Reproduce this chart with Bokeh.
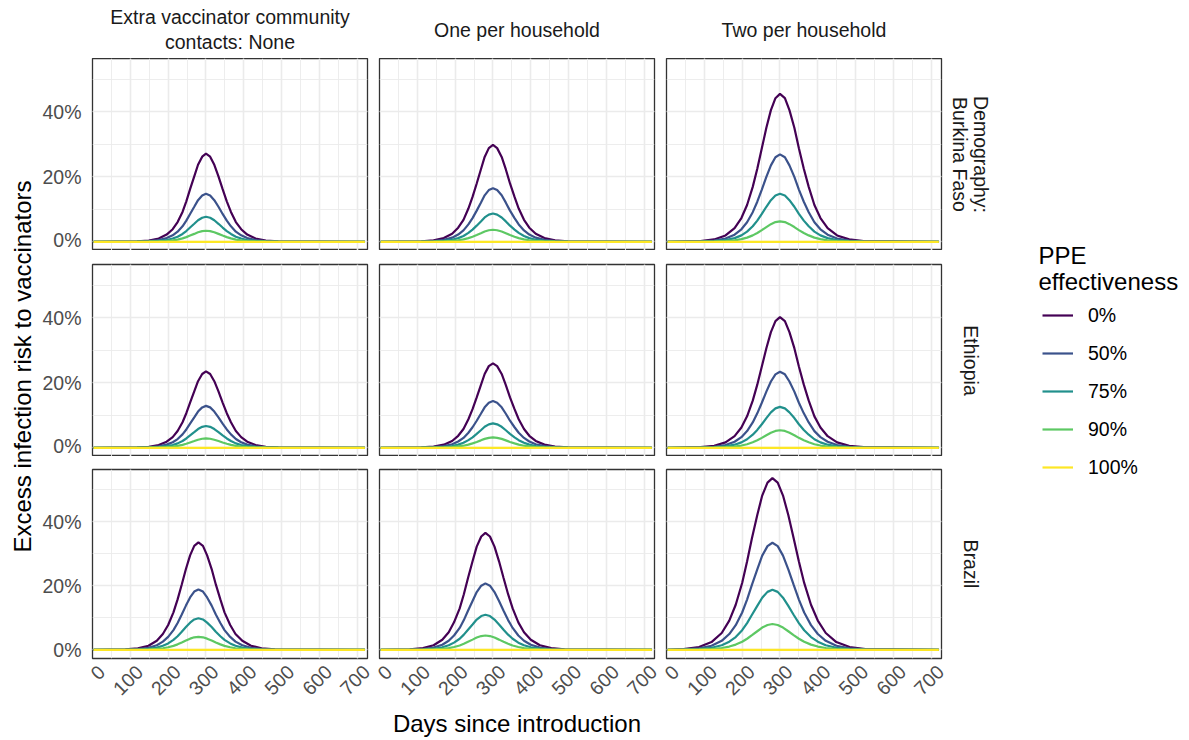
import math
from bokeh.plotting import figure
from bokeh.models import Range1d, SingleIntervalTicker, FixedTicker, PrintfTickFormatter, Legend, LegendItem, Spacer
from bokeh.layouts import row, column
from bokeh.core.properties import value
from bokeh.embed import file_html
from bokeh.resources import INLINE

FONT = "Liberation Sans"

col_labels = ["Extra vaccinator community\ncontacts: None", "One per household", "Two per household"]
row_labels = [["Demography:", "Burkina Faso"], ["Ethiopia"], ["Brazil"]]
ppe_levels = ["0%", "50%", "75%", "90%", "100%"]
ppe_colors = ["#440154", "#3B528B", "#21908C", "#5DC863", "#FDE725"]
x_ticks = [0, 100, 200, 300, 400, 500, 600, 700]
y_ticks = [0, 20, 40]

# days sampled, per column (Burkina Faso / Ethiopia) and for Brazil
days_none = [3, 118, 149, 175, 196, 212, 225, 238, 248, 258, 269, 279, 290, 300, 311, 322, 333, 344, 355, 366, 379, 393, 409, 431, 458, 491, 720]
days_one = [3, 111, 143, 170, 192, 208, 222, 235, 246, 257, 268, 278, 289, 300, 311, 323, 334, 345, 357, 368, 382, 396, 413, 436, 464, 498, 720]
days_two = [3, 90, 126, 156, 180, 198, 213, 228, 240, 252, 264, 276, 288, 300, 313, 325, 338, 350, 363, 376, 391, 407, 426, 451, 483, 521, 720]
days_br_none = [3, 87, 120, 148, 170, 186, 200, 214, 225, 236, 247, 258, 269, 280, 292, 303, 315, 326, 338, 349, 364, 378, 396, 419, 447, 482, 720]
days_br_one = [3, 80, 115, 143, 166, 183, 197, 212, 223, 234, 246, 257, 269, 280, 292, 304, 316, 328, 340, 352, 367, 382, 400, 424, 454, 489, 720]
days_br_two = [3, 45, 86, 119, 146, 166, 183, 200, 213, 226, 240, 253, 267, 280, 294, 308, 322, 336, 350, 364, 382, 400, 421, 449, 484, 526, 720]
# PPE 100%: no excess risk
days_full = [3, 720]
risk_full = [0, 0]

# Excess infection risk (%) for PPE 0%, 50%, 75%, 90%
burkina_none = [
    [0, 0.12, 0.38, 1.02, 2.21, 3.87, 6.06, 9.19, 12.44, 16.19, 20.14, 23.7, 26.2, 27.1, 26.2, 23.7, 20.14, 16.19, 12.44, 9.19, 6.06, 3.87, 2.21, 1.02, 0.38, 0.12, 0],
    [0, 0.06, 0.19, 0.52, 1.13, 1.98, 3.12, 4.77, 6.51, 8.57, 10.78, 12.81, 14.27, 14.8, 14.27, 12.81, 10.78, 8.57, 6.51, 4.77, 3.12, 1.98, 1.13, 0.52, 0.19, 0.06, 0],
    [0, 0.03, 0.1, 0.26, 0.56, 1.0, 1.57, 2.41, 3.31, 4.38, 5.54, 6.62, 7.41, 7.7, 7.41, 6.62, 5.54, 4.38, 3.31, 2.41, 1.57, 1.0, 0.56, 0.26, 0.1, 0.03, 0],
    [0, 0.01, 0.04, 0.11, 0.24, 0.43, 0.68, 1.05, 1.44, 1.92, 2.43, 2.92, 3.27, 3.4, 3.27, 2.92, 2.43, 1.92, 1.44, 1.05, 0.68, 0.43, 0.24, 0.11, 0.04, 0.01, 0],
]
burkina_one = [
    [0, 0.13, 0.43, 1.14, 2.47, 4.33, 6.76, 10.23, 13.81, 17.95, 22.26, 26.12, 28.82, 29.8, 28.82, 26.12, 22.26, 17.95, 13.81, 10.23, 6.76, 4.33, 2.47, 1.14, 0.43, 0.13, 0],
    [0, 0.07, 0.22, 0.58, 1.27, 2.23, 3.5, 5.35, 7.29, 9.59, 12.04, 14.3, 15.91, 16.5, 15.91, 14.3, 12.04, 9.59, 7.29, 5.35, 3.5, 2.23, 1.27, 0.58, 0.22, 0.07, 0],
    [0, 0.03, 0.11, 0.29, 0.64, 1.13, 1.78, 2.74, 3.75, 4.96, 6.27, 7.49, 8.37, 8.7, 8.37, 7.49, 6.27, 4.96, 3.75, 2.74, 1.78, 1.13, 0.64, 0.29, 0.11, 0.03, 0],
    [0, 0.01, 0.05, 0.12, 0.27, 0.47, 0.74, 1.14, 1.57, 2.09, 2.65, 3.17, 3.56, 3.7, 3.56, 3.17, 2.65, 2.09, 1.57, 1.14, 0.74, 0.47, 0.27, 0.12, 0.05, 0.01, 0],
]
burkina_two = [
    [0, 0.22, 0.73, 1.95, 4.2, 7.31, 11.31, 16.9, 22.5, 28.78, 35.07, 40.51, 44.19, 45.5, 44.19, 40.51, 35.07, 28.78, 22.5, 16.9, 11.31, 7.31, 4.2, 1.95, 0.73, 0.22, 0],
    [0, 0.11, 0.38, 1.01, 2.19, 3.84, 6.01, 9.11, 12.33, 16.07, 19.98, 23.51, 26.0, 26.9, 26.0, 23.51, 19.98, 16.07, 12.33, 9.11, 6.01, 3.84, 2.19, 1.01, 0.38, 0.11, 0],
    [0, 0.06, 0.19, 0.52, 1.13, 1.98, 3.12, 4.77, 6.51, 8.57, 10.78, 12.81, 14.27, 14.8, 14.27, 12.81, 10.78, 8.57, 6.51, 4.77, 3.12, 1.98, 1.13, 0.52, 0.19, 0.06, 0],
    [0, 0.02, 0.08, 0.21, 0.46, 0.81, 1.28, 1.97, 2.7, 3.58, 4.53, 5.42, 6.06, 6.3, 6.06, 5.42, 4.53, 3.58, 2.7, 1.97, 1.28, 0.81, 0.46, 0.21, 0.08, 0.02, 0],
]
ethiopia_none = [
    [0, 0.1, 0.32, 0.86, 1.88, 3.29, 5.16, 7.85, 10.64, 13.91, 17.36, 20.49, 22.7, 23.5, 22.7, 20.49, 17.36, 13.91, 10.64, 7.85, 5.16, 3.29, 1.88, 0.86, 0.32, 0.1, 0],
    [0, 0.05, 0.17, 0.45, 0.97, 1.71, 2.69, 4.13, 5.64, 7.43, 9.36, 11.15, 12.43, 12.9, 12.43, 11.15, 9.36, 7.43, 5.64, 4.13, 2.69, 1.71, 0.97, 0.45, 0.17, 0.05, 0],
    [0, 0.03, 0.08, 0.22, 0.49, 0.86, 1.36, 2.1, 2.87, 3.81, 4.82, 5.77, 6.45, 6.7, 6.45, 5.77, 4.82, 3.81, 2.87, 2.1, 1.36, 0.86, 0.49, 0.22, 0.08, 0.03, 0],
    [0, 0.01, 0.04, 0.1, 0.21, 0.37, 0.58, 0.89, 1.23, 1.63, 2.07, 2.48, 2.79, 2.9, 2.79, 2.48, 2.07, 1.63, 1.23, 0.89, 0.58, 0.37, 0.21, 0.1, 0.04, 0.01, 0],
]
ethiopia_one = [
    [0, 0.11, 0.36, 0.97, 2.1, 3.69, 5.78, 8.78, 11.88, 15.49, 19.29, 22.71, 25.13, 26.0, 25.13, 22.71, 19.29, 15.49, 11.88, 8.78, 5.78, 3.69, 2.1, 0.97, 0.36, 0.11, 0],
    [0, 0.06, 0.19, 0.5, 1.09, 1.93, 3.03, 4.63, 6.32, 8.33, 10.48, 12.45, 13.88, 14.4, 13.88, 12.45, 10.48, 8.33, 6.32, 4.63, 3.03, 1.93, 1.09, 0.5, 0.19, 0.06, 0],
    [0, 0.03, 0.09, 0.25, 0.55, 0.97, 1.53, 2.35, 3.22, 4.27, 5.4, 6.46, 7.22, 7.5, 7.22, 6.46, 5.4, 4.27, 3.22, 2.35, 1.53, 0.97, 0.55, 0.25, 0.09, 0.03, 0],
    [0, 0.01, 0.04, 0.11, 0.23, 0.41, 0.64, 0.99, 1.36, 1.8, 2.29, 2.74, 3.07, 3.2, 3.07, 2.74, 2.29, 1.8, 1.36, 0.99, 0.64, 0.41, 0.23, 0.11, 0.04, 0.01, 0],
]
ethiopia_two = [
    [0, 0.19, 0.62, 1.65, 3.57, 6.23, 9.67, 14.51, 19.43, 24.99, 30.65, 35.59, 38.99, 40.2, 38.99, 35.59, 30.65, 24.99, 19.43, 14.51, 9.67, 6.23, 3.57, 1.65, 0.62, 0.19, 0],
    [0, 0.1, 0.32, 0.86, 1.87, 3.28, 5.13, 7.81, 10.6, 13.85, 17.28, 20.4, 22.6, 23.4, 22.6, 20.4, 17.28, 13.85, 10.6, 7.81, 5.13, 3.28, 1.87, 0.86, 0.32, 0.1, 0],
    [0, 0.05, 0.16, 0.44, 0.95, 1.67, 2.63, 4.02, 5.5, 7.25, 9.14, 10.89, 12.14, 12.6, 12.14, 10.89, 9.14, 7.25, 5.5, 4.02, 2.63, 1.67, 0.95, 0.44, 0.16, 0.05, 0],
    [0, 0.02, 0.07, 0.18, 0.39, 0.69, 1.09, 1.68, 2.3, 3.06, 3.87, 4.64, 5.19, 5.4, 5.19, 4.64, 3.87, 3.06, 2.3, 1.68, 1.09, 0.69, 0.39, 0.18, 0.07, 0.02, 0],
]
brazil_none = [
    [0, 0.15, 0.49, 1.32, 2.85, 4.99, 7.78, 11.74, 15.8, 20.47, 25.28, 29.56, 32.53, 33.6, 32.53, 29.56, 25.28, 20.47, 15.8, 11.74, 7.78, 4.99, 2.85, 1.32, 0.49, 0.15, 0],
    [0, 0.08, 0.25, 0.68, 1.47, 2.59, 4.06, 6.19, 8.42, 11.05, 13.85, 16.4, 18.24, 18.9, 18.24, 16.4, 13.85, 11.05, 8.42, 6.19, 4.06, 2.59, 1.47, 0.68, 0.25, 0.08, 0],
    [0, 0.04, 0.13, 0.34, 0.73, 1.3, 2.04, 3.13, 4.28, 5.66, 7.15, 8.53, 9.53, 9.9, 9.53, 8.53, 7.15, 5.66, 4.28, 3.13, 2.04, 1.3, 0.73, 0.34, 0.13, 0.04, 0],
    [0, 0.02, 0.05, 0.14, 0.3, 0.52, 0.83, 1.27, 1.74, 2.32, 2.94, 3.52, 3.95, 4.1, 3.95, 3.52, 2.94, 2.32, 1.74, 1.27, 0.83, 0.52, 0.3, 0.14, 0.05, 0.02, 0],
]
brazil_one = [
    [0, 0.17, 0.55, 1.47, 3.17, 5.54, 8.62, 12.98, 17.42, 22.49, 27.7, 32.29, 35.46, 36.6, 35.46, 32.29, 27.7, 22.49, 17.42, 12.98, 8.62, 5.54, 3.17, 1.47, 0.55, 0.17, 0],
    [0, 0.08, 0.28, 0.75, 1.63, 2.87, 4.51, 6.87, 9.33, 12.23, 15.28, 18.09, 20.08, 20.8, 20.08, 18.09, 15.28, 12.23, 9.33, 6.87, 4.51, 2.87, 1.63, 0.75, 0.28, 0.08, 0],
    [0, 0.04, 0.14, 0.38, 0.82, 1.45, 2.28, 3.49, 4.78, 6.31, 7.96, 9.49, 10.6, 11.0, 10.6, 9.49, 7.96, 6.31, 4.78, 3.49, 2.28, 1.45, 0.82, 0.38, 0.14, 0.04, 0],
    [0, 0.02, 0.06, 0.15, 0.32, 0.57, 0.91, 1.39, 1.91, 2.54, 3.22, 3.86, 4.33, 4.5, 4.33, 3.86, 3.22, 2.54, 1.91, 1.39, 0.91, 0.57, 0.32, 0.15, 0.06, 0.02, 0],
]
brazil_two = [
    [0, 0.28, 0.92, 2.46, 5.29, 9.18, 14.12, 20.94, 27.63, 34.98, 42.19, 48.25, 52.29, 53.7, 52.29, 48.25, 42.19, 34.98, 27.63, 20.94, 14.12, 9.18, 5.29, 2.46, 0.92, 0.28, 0],
    [0, 0.15, 0.49, 1.31, 2.84, 4.97, 7.75, 11.7, 15.75, 20.4, 25.2, 29.47, 32.44, 33.5, 32.44, 29.47, 25.2, 20.4, 15.75, 11.7, 7.75, 4.97, 2.84, 1.31, 0.49, 0.15, 0],
    [0, 0.08, 0.25, 0.67, 1.46, 2.57, 4.03, 6.16, 8.38, 11.0, 13.77, 16.32, 18.15, 18.8, 18.15, 16.32, 13.77, 11.0, 8.38, 6.16, 4.03, 2.57, 1.46, 0.67, 0.25, 0.08, 0],
    [0, 0.03, 0.1, 0.27, 0.6, 1.05, 1.66, 2.54, 3.49, 4.61, 5.84, 6.98, 7.8, 8.1, 7.8, 6.98, 5.84, 4.61, 3.49, 2.54, 1.66, 1.05, 0.6, 0.27, 0.1, 0.03, 0],
]

panels = [
    [burkina_none, burkina_one, burkina_two],
    [ethiopia_none, ethiopia_one, ethiopia_two],
    [brazil_none, brazil_one, brazil_two],
]
panel_days = [
    [days_none, days_one, days_two],
    [days_none, days_one, days_two],
    [days_br_none, days_br_one, days_br_two],
]

# ---------------- layout ----------------
FRAME_W, FRAME_H = 275, 192
YT_W = 38
LEFTS = [54, 5, 5]
RIGHTS = [7, 7, 7]
TOPS = [0, 14, 13]
BOTTOMS = [0, 0, 79]
STRIP_R_W = 51
LEG_W = 1189 - YT_W - sum(LEFTS) - sum(RIGHTS) - 3 * FRAME_W - STRIP_R_W
LEG_LEFT = 35
LABEL_SHIFT = 24  # ggplot centres rotated labels slightly right of the tick

x_rng = Range1d(0, 727)
y_rng = Range1d(-2.68, 56.4)

TXT = "#1A1A1A"
TICK_TXT = "#4D4D4D"


def blank(width, height, xr=(0, 1), yr=(0, 1), left=0, top=0, right=0, bottom=0):
    f = figure(width=width, height=height, x_range=Range1d(*xr), y_range=Range1d(*yr),
               x_axis_location=None, y_axis_location=None, toolbar_location=None,
               output_backend="svg", min_border_left=left, min_border_right=right,
               min_border_top=top, min_border_bottom=bottom)
    f.grid.visible = False
    f.outline_line_color = None
    f.background_fill_color = None
    f.border_fill_color = None
    return f


def make_panel(r, c):
    left, right, top, bottom = LEFTS[c], RIGHTS[c], TOPS[r], BOTTOMS[r]
    p = figure(width=left + FRAME_W + right, height=top + FRAME_H + bottom,
               x_range=x_rng, y_range=y_rng,
               x_axis_location="below" if r == 2 else None,
               y_axis_location="left" if c == 0 else None,
               toolbar_location=None, output_backend="svg",
               min_border_left=left, min_border_right=right,
               min_border_top=top, min_border_bottom=bottom)
    p.outline_line_color = "#333333"
    p.outline_line_width = 1.3
    p.background_fill_color = "white"
    p.border_fill_color = "white"
    p.xgrid.ticker = SingleIntervalTicker(interval=100, num_minor_ticks=2)
    p.ygrid.ticker = SingleIntervalTicker(interval=20, num_minor_ticks=2)
    for g in (p.xgrid[0], p.ygrid[0]):
        g.grid_line_color = "#EBEBEB"
        g.grid_line_width = 1.6
        g.minor_grid_line_color = "#EBEBEB"
        g.minor_grid_line_width = 0.9
    if c == 0:
        ax = p.yaxis[0]
        ax.ticker = y_ticks
        ax.formatter = PrintfTickFormatter(format="%d%%")
        ax.major_tick_line_color = None
        ax.minor_tick_line_color = None
        ax.major_tick_out = 0
        ax.major_tick_in = 0
        ax.axis_line_color = None
        ax.major_label_text_font = FONT
        ax.major_label_text_font_size = "19.5px"
        ax.major_label_text_color = TICK_TXT
        ax.major_label_standoff = 11
    if r == 2:
        ax = p.xaxis[0]
        ax.ticker = FixedTicker(ticks=[t + LABEL_SHIFT for t in x_ticks])
        ax.major_label_overrides = {t + LABEL_SHIFT: str(t) for t in x_ticks}
        ax.major_tick_line_color = None
        ax.minor_tick_line_color = None
        ax.major_tick_out = 0
        ax.major_tick_in = 0
        ax.axis_line_color = None
        ax.major_label_text_font = FONT
        ax.major_label_text_font_size = "19.5px"
        ax.major_label_text_color = TICK_TXT
        ax.major_label_orientation = math.pi / 4
        ax.major_label_standoff = 10
        if c == 1:
            ax.axis_label = "Days since introduction"
            ax.axis_label_text_font = FONT
            ax.axis_label_text_font_size = "24px"
            ax.axis_label_text_font_style = "normal"
            ax.axis_label_text_color = "black"
            ax.axis_label_standoff = 6
    data = panels[r][c]
    days = panel_days[r][c]
    for k in range(4):
        p.line(days, data[k], line_color=ppe_colors[k], line_width=2.2)
    p.line(days_full, risk_full, line_color=ppe_colors[4], line_width=2.2)
    return p


# top strips
strip_row_children = []
for c in range(3):
    f = blank(LEFTS[c] + FRAME_W + RIGHTS[c], 58, left=LEFTS[c], right=RIGHTS[c])
    f.text(x=[0.5], y=[0.5], text=[col_labels[c]], text_align="center", text_baseline="middle",
           text_font=value(FONT), text_font_size="19.5px", text_color=TXT, text_line_height=1.12)
    strip_row_children.append(f)
strip_row_children.append(Spacer(width=STRIP_R_W, height=58))
strip_row = row(*strip_row_children, spacing=0)

panel_rows = []
for r in range(3):
    children = [make_panel(r, c) for c in range(3)]
    rs = blank(STRIP_R_W, TOPS[r] + FRAME_H + BOTTOMS[r], xr=(0, STRIP_R_W),
               top=TOPS[r], bottom=BOTTOMS[r])
    lines = row_labels[r]
    xs = [32.5, 11.5] if len(lines) == 2 else [22]
    rs.text(x=xs, y=[0.5] * len(lines), text=lines, text_align="center", text_baseline="middle",
            angle=-math.pi / 2, text_font=value(FONT), text_font_size="19.5px", text_color=TXT)
    children.append(rs)
    panel_rows.append(row(*children, spacing=0))

main = column(strip_row, *panel_rows, spacing=0)

# y title
yt = blank(YT_W, 740, xr=(0, YT_W), yr=(0, 740))
yt.text(x=[22], y=[740 - 366], text=["Excess infection risk to vaccinators"],
        text_align="center", text_baseline="middle", angle=math.pi / 2,
        text_font=value(FONT), text_font_size="24px", text_color="black")

# legend title
LT_H = 295
lt = blank(LEG_W, LT_H, xr=(LEG_LEFT, LEG_W), yr=(0, LT_H), left=LEG_LEFT)
lt.text(x=[39, 39], y=[LT_H - 254.5, LT_H - 280.5], text=["PPE", "effectiveness"],
        text_align="left", text_baseline="alphabetic",
        text_font=value(FONT), text_font_size="24px", text_color="black")

# legend items
lg = blank(LEG_W, 740 - LT_H, left=LEG_LEFT)
items = []
for k in range(5):
    rr = lg.line([5, 6], [5, 6], line_color=ppe_colors[k], line_width=2.2)
    items.append(LegendItem(label=ppe_levels[k], renderers=[rr]))
legend = Legend(items=items, location="top_left", orientation="vertical", margin=8, padding=0,
                spacing=14, glyph_width=31, glyph_height=24, label_height=24, label_standoff=15,
                label_text_font=FONT, label_text_font_size="19.5px", label_text_color="black",
                border_line_color=None, background_fill_alpha=0)
lg.add_layout(legend)

leg_col = column(lt, lg, spacing=0)

layout = row(yt, main, leg_col, spacing=0)

open("out.html", "w").write(file_html(layout, INLINE, title="Excess infection risk"))
